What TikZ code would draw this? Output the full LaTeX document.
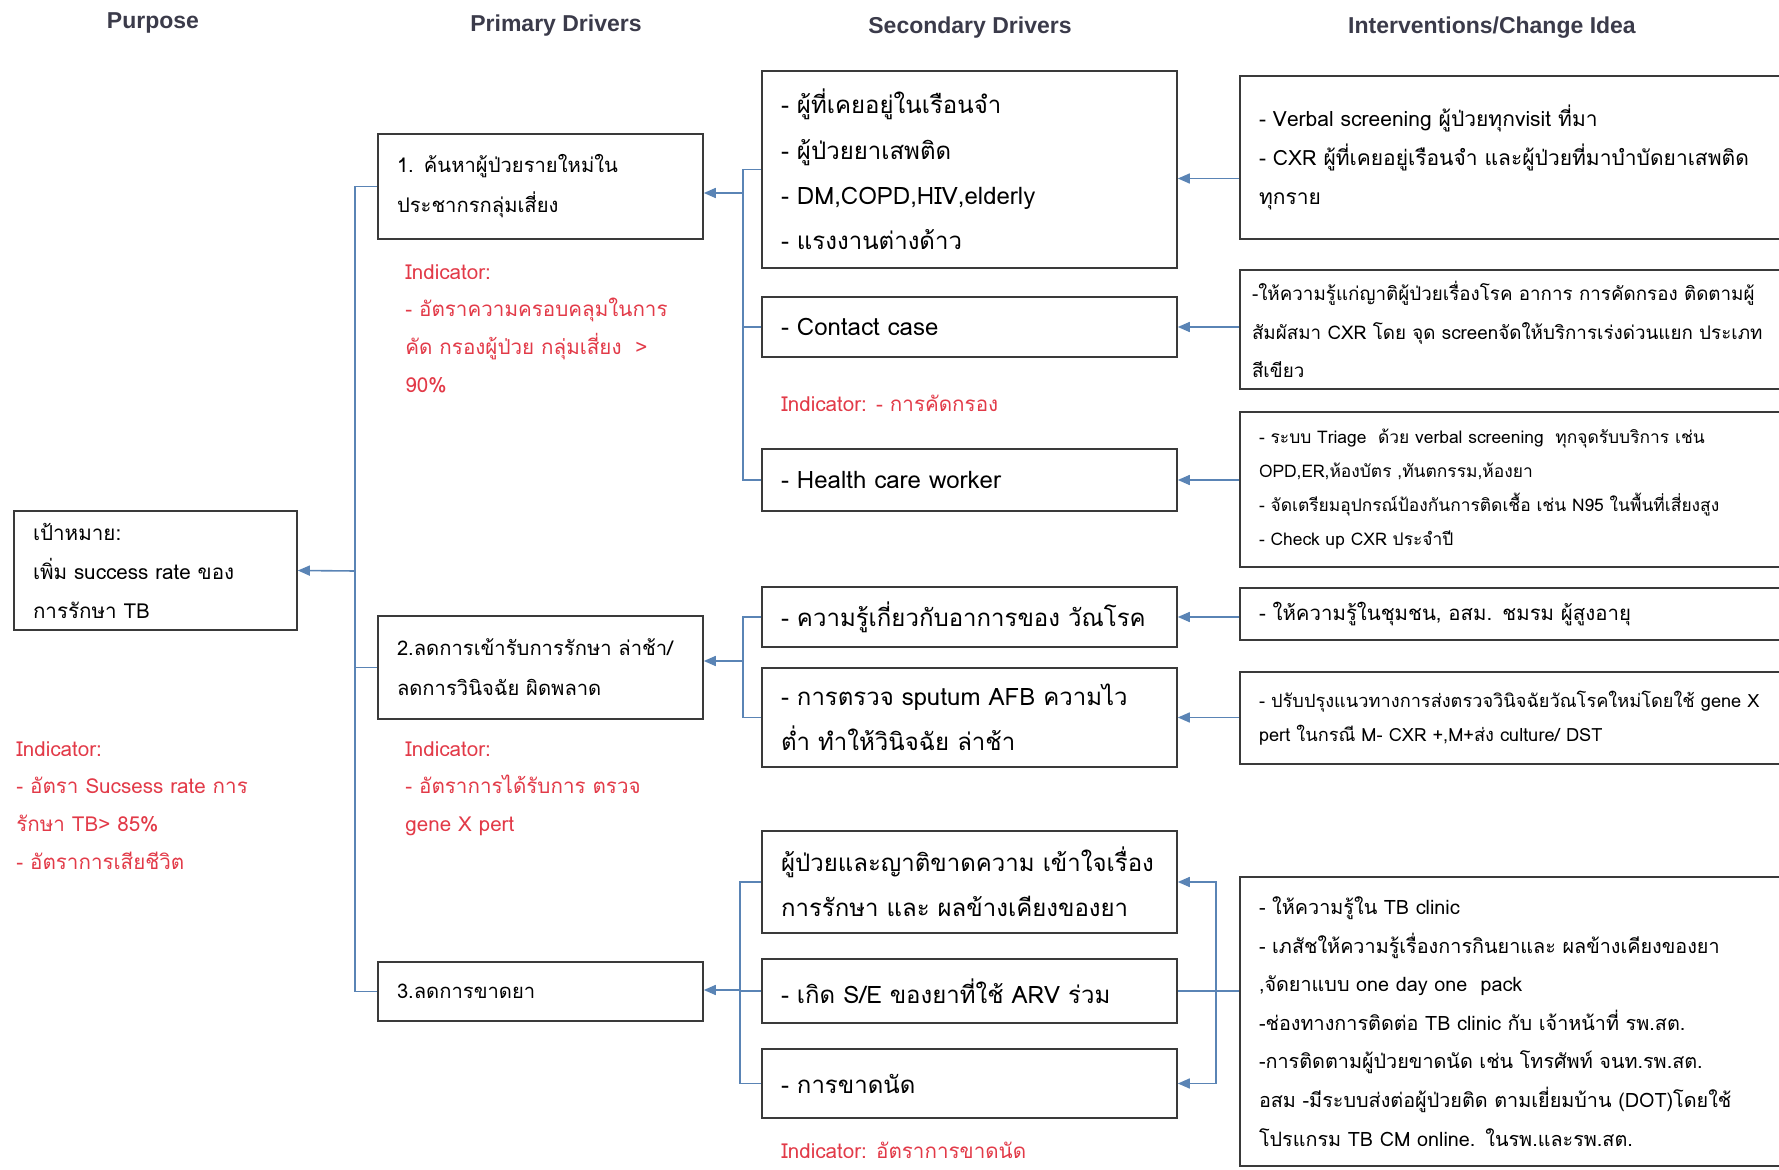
\documentclass[tikz,border=0pt]{standalone}
\usepackage{fontspec}
\setmainfont{Liberation Sans}
\newfontfamily\thai[Script=Thai]{Loma}
\usetikzlibrary{arrows.meta}
\definecolor{linkblue}{HTML}{5A84B5}
\definecolor{boxgray}{HTML}{3A3A3A}
\definecolor{indred}{HTML}{E23A48}
\definecolor{headgray}{HTML}{3B3B4A}
\newcommand{\secfont}{\thai\fontsize{12}{22.7}\selectfont}
\newcommand{\prifont}{\thai\fontsize{10.1}{20}\selectfont}
\newcommand{\indfont}{\thai\fontsize{10.3}{18.9}\selectfont}
\tikzset{
  head/.style={inner sep=0pt, text=headgray, font=\bfseries\fontsize{11.5}{13}\selectfont},
  box/.style={draw=boxgray, line width=0.8pt, fill=white, align=left, inner xsep=9.5pt, inner ysep=0pt},
  purbox/.style={box, text width=122.5pt, font=\thai\fontsize{10.3}{19.5}\selectfont},
  pribox/.style={box, text width=143.5pt, font=\prifont},
  secbox/.style={box, text width=188.5pt, font=\secfont},
  intbox/.style={box, text width=261pt},
  indtext/.style={anchor=north west, inner sep=0pt, align=left, text=indred, font=\indfont},
  indline/.style={anchor=west, inner sep=0pt, text=indred, font=\indfont},
  link/.style={draw=linkblue, line width=0.8pt},
  arr/.style={link, -{Triangle[length=6pt,width=5pt]}}
}

\begin{document}
\begin{tikzpicture}[x=0.5pt,y=-0.5pt]
\useasboundingbox (0,0) rectangle (1779,1170);
\node[head] (hpur) at (153,23) {Purpose};
\node[head] (hpri) at (556,26) {Primary Drivers};
\node[head] (hsec) at (970,28) {Secondary Drivers};
\node[head] (hint) at (1492,28) {Interventions/Change Idea};

\node[purbox, minimum height=59.5pt] (pur) at (155.5,570.5) {เป้าหมาย:\\เพิ่ม success rate ของ\\การรักษา TB};
\node[indtext] (purind) at (16,741) {Indicator:\\- อัตรา Sucsess rate การ\\รักษา TB> 85\%\\- อัตราการเสียชีวิต};

\node[pribox, minimum height=52.5pt] (p1) at (540.5,186.5) {1. ค้นหาผู้ป่วยรายใหม่ใน\\ประชากรกลุ่มเสี่ยง};
\node[indtext] (p1ind) at (405,264) {Indicator:\\- อัตราความครอบคลุมในการ\\คัด กรองผู้ป่วย กลุ่มเสี่ยง~~>\\90\%};
\node[pribox, minimum height=51.5pt] (p2) at (540.5,667.5) {2.ลดการเข้ารับการรักษา ล่าช้า/\\ลดการวินิจฉัย ผิดพลาด};
\node[indtext] (p2ind) at (405,741) {Indicator:\\- อัตราการได้รับการ ตรวจ\\gene X pert};
\node[pribox, minimum height=29.5pt] (p3) at (540.5,991.5) {3.ลดการขาดยา};

\node[secbox, minimum height=98.5pt] (s1) at (969.5,169.5) {- ผู้ที่เคยอยู่ในเรือนจำ\\- ผู้ป่วยยาเสพติด\\- DM,COPD,HIV,elderly\\- แรงงานต่างด้าว};
\node[secbox, minimum height=30pt] (s2) at (969.5,327) {- Contact case};
\node[indline] (s2ind) at (781,403) {Indicator: - การคัดกรอง};
\node[secbox, minimum height=31pt] (s3) at (969.5,480) {- Health care worker};
\node[secbox, minimum height=30pt] (s4) at (969.5,617) {- ความรู้เกี่ยวกับอาการของ วัณโรค};
\node[secbox, minimum height=49.5pt] (s5) at (969.5,717.5) {- การตรวจ sputum AFB ความไว\\ต่ำ ทำให้วินิจฉัย ล่าช้า};
\node[secbox, minimum height=51pt] (s6) at (969.5,882) {ผู้ป่วยและญาติขาดความ เข้าใจเรื่อง\\การรักษา และ ผลข้างเคียงของยา};
\node[secbox, minimum height=32pt] (s7) at (969.5,991) {- เกิด S/E ของยาที่ใช้ ARV ร่วม};
\node[secbox, minimum height=34.5pt] (s8) at (969.5,1083.5) {- การขาดนัด};
\node[indline] (s8ind) at (781,1150) {Indicator: อัตราการขาดนัด};

\node[intbox, minimum height=81.5pt, font=\thai\fontsize{10.5}{19.3}\selectfont] (i1) at (1520,157.5) {- Verbal screening ผู้ป่วยทุกvisit ที่มา\\- CXR ผู้ที่เคยอยู่เรือนจำ และผู้ป่วยที่มาบำบัดยาเสพติด\\ทุกราย};
\node[intbox, minimum height=59.5pt, inner xsep=6pt, text width=268pt, font=\thai\fontsize{9.4}{19.3}\selectfont] (i2) at (1520,329.5) {-ให้ความรู้แก่ญาติผู้ป่วยเรื่องโรค อาการ การคัดกรอง ติดตามผู้\\สัมผัสมา CXR โดย จุด screenจัดให้บริการเร่งด่วนแยก ประเภท\\สีเขียว};
\node[intbox, minimum height=77.5pt, font=\thai\fontsize{8.7}{17}\selectfont] (i3) at (1520,489.5) {- ระบบ Triage~ ด้วย verbal screening~ ทุกจุดรับบริการ เช่น\\OPD,ER,ห้องบัตร ,ทันตกรรม,ห้องยา\\- จัดเตรียมอุปกรณ์ป้องกันการติดเชื้อ เช่น N95 ในพื้นที่เสี่ยงสูง\\- Check up CXR ประจำปี};
\node[intbox, minimum height=26pt, font=\thai\fontsize{10.2}{19.3}\selectfont] (i4) at (1520,614) {- ให้ความรู้ในชุมชน, อสม. ชมรม ผู้สูงอายุ};
\node[intbox, minimum height=46pt, font=\thai\fontsize{9.1}{17}\selectfont] (i5) at (1520,718) {- ปรับปรุงแนวทางการส่งตรวจวินิจฉัยวัณโรคใหม่โดยใช้ gene X\\pert ในกรณี M- CXR +,M+ส่ง culture/ DST};
\node[intbox, minimum height=144.5pt, font=\thai\fontsize{9.9}{19.3}\selectfont] (i6) at (1520,1021.5) {- ให้ความรู้ใน TB clinic\\- เภสัชให้ความรู้เรื่องการกินยาและ ผลข้างเคียงของยา\\,จัดยาแบบ one day one~ pack\\-ช่องทางการติดต่อ TB clinic กับ เจ้าหน้าที่ รพ.สต.\\-การติดตามผู้ป่วยขาดนัด เช่น โทรศัพท์ จนท.รพ.สต.\\อสม -มีระบบส่งต่อผู้ป่วยติด ตามเยี่ยมบ้าน (DOT)โดยใช้\\โปรแกรม TB CM online. ในรพ.และรพ.สต.};

\coordinate (pj) at (355,571);
\draw[link] (p1.west) -| (pj) |- (p3.west);
\draw[link] (p2.west) -| (pj);
\draw[arr] (pj) -- (pur.east);

\coordinate (j1) at (743,193);
\draw[link] (s1.west) -| (j1) |- (s3.west);
\draw[link] (s2.west) -- (s2.west -| j1);
\draw[arr] (j1) -- (j1 -| p1.east);
\coordinate (j2) at (743,661);
\draw[link] (s4.west) -| (j2) |- (s5.west);
\draw[arr] (j2) -- (j2 -| p2.east);
\coordinate (j3) at (740,990);
\draw[link] (s6.west) -| (j3) |- (s8.west);
\draw[link] (s7.west) -- (s7.west -| j3);
\draw[arr] (j3) -- (j3 -| p3.east);

\draw[arr] ([yshift=-4.5pt]i1.west |- s1.east) -- ([yshift=-4.5pt]s1.east);
\draw[arr] (i2.west |- s2.east) -- (s2.east);
\draw[arr] (i3.west |- s3.east) -- (s3.east);
\draw[arr] (i4.west |- s4.east) -- (s4.east);
\draw[arr] (i5.west |- s5.east) -- (s5.east);
\coordinate (j6) at (1216,990);
\draw[link] (i6.west |- s7.east) -- (s7.east);
\draw[arr] (j6) |- (s6.east);
\draw[arr] (j6) |- (s8.east);
\end{tikzpicture}
\end{document}
